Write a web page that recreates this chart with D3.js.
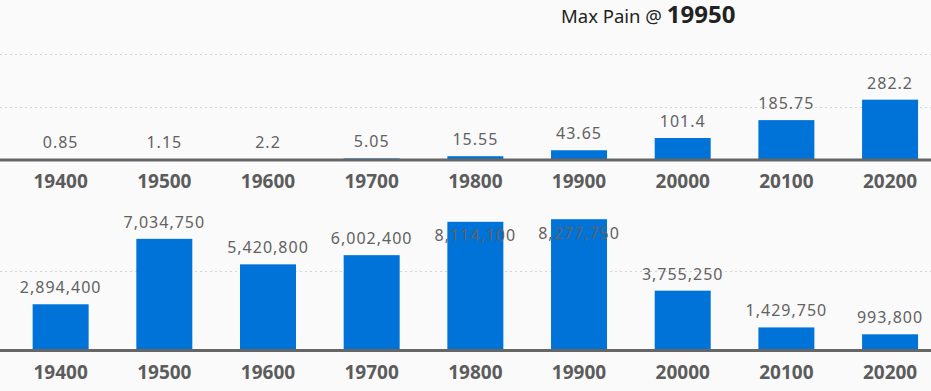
<!DOCTYPE html>
<html>
<head>
<meta charset="utf-8">
<script src="https://cdn.jsdelivr.net/npm/d3@7"></script>
<style>
  html, body { margin: 0; padding: 0; background: #fafafa; }
  svg { display: block; font-family: "Noto Sans", "Open Sans", sans-serif; }
</style>
</head>
<body>
<div id="chart"></div>
<script>
// strikes shared by both panels
const strikes = ["19400", "19500", "19600", "19700", "19800", "19900", "20000", "20100", "20200"];

// top panel: pain values
const painValues = [0.85, 1.15, 2.2, 5.05, 15.55, 43.65, 101.4, 185.75, 282.2];
const painTicks = [250, 500];

// bottom panel: open interest style values
const oiValues = [2894400, 7034750, 5420800, 6002400, 8114100, 8277750, 3755250, 1429750, 993800];
const oiTicks = [5000000];

const maxPainStrike = "19950";

const width = 931, height = 391;

const svg = d3.select("#chart")
              .append("svg")
              .attr("width", width)
              .attr("height", height);

// title
const title = svg.append("text")
                 .attr("x", 561)
                 .attr("y", 22.5)
                 .attr("fill", "#222");
title.append("tspan")
     .attr("font-size", "18.5px")
     .text("Max Pain @ ");
title.append("tspan")
     .attr("font-size", "24px")
     .attr("font-weight", "bold")
     .text(maxPainStrike);

const x = d3.scaleBand()
            .domain(strikes)
            .range([8.8, 941.9])
            .paddingInner(0.46)
            .paddingOuter(0.23);

// draw one bar panel
function drawPanel(values, ticks, yScale, baseY, plotTop, fmt) {
    const g = svg.append("g");

    // dotted grid lines
    g.append("g")
     .selectAll("line")
     .data(ticks)
     .join("line")
     .attr("x1", 0)
     .attr("x2", width)
     .attr("y1", d => Math.round(yScale(d)) + 0.5)
     .attr("y2", d => Math.round(yScale(d)) + 0.5)
     .attr("stroke", "#d4d4d4")
     .attr("stroke-dasharray", "2,3");

    // bars
    g.append("g")
     .selectAll("rect")
     .data(values)
     .join("rect")
     .attr("x", (d, i) => x(strikes[i]))
     .attr("y", d => yScale(d))
     .attr("width", x.bandwidth())
     .attr("height", d => yScale(0) - yScale(d))
     .attr("fill", "#0073d9");

    // value labels (moved inside the bar when there is no room above)
    g.append("g")
     .selectAll("text")
     .data(values)
     .join("text")
     .attr("x", (d, i) => x(strikes[i]) + x.bandwidth() / 2)
     .attr("y", d => {
         const top = yScale(d);
         return (top - 27 < plotTop) ? top + 19.5 : top - 11;
     })
     .attr("text-anchor", "middle")
     .attr("font-size", "16px")
     .attr("letter-spacing", "1px")
     .attr("fill", "#626262")
     .text(d => fmt(d));

    // baseline
    g.append("line")
     .attr("x1", 0)
     .attr("x2", width)
     .attr("y1", baseY)
     .attr("y2", baseY)
     .attr("stroke", "#666")
     .attr("stroke-width", 3);

    // strike axis
    const axis = g.append("g")
                  .attr("transform", `translate(0, ${baseY})`)
                  .call(d3.axisBottom(x).tickSize(0).tickPadding(15));
    axis.select(".domain").remove();
    axis.selectAll("text")
        .attr("font-family", "\"Noto Sans\", sans-serif")
        .attr("font-size", "19px")
        .attr("font-weight", "bold")
        .attr("fill", "#5c5c5c");
}

const yTop = d3.scaleLinear()
               .domain([0, 750])
               .range([159.5, 0.5]);

const yBottom = d3.scaleLinear()
                  .domain([0, 10000000])
                  .range([350, 192]);

drawPanel(painValues, painTicks, yTop, 160, 0, d => String(d));
drawPanel(oiValues, oiTicks, yBottom, 350.5, 205, d3.format(","));
</script>
</body>
</html>
